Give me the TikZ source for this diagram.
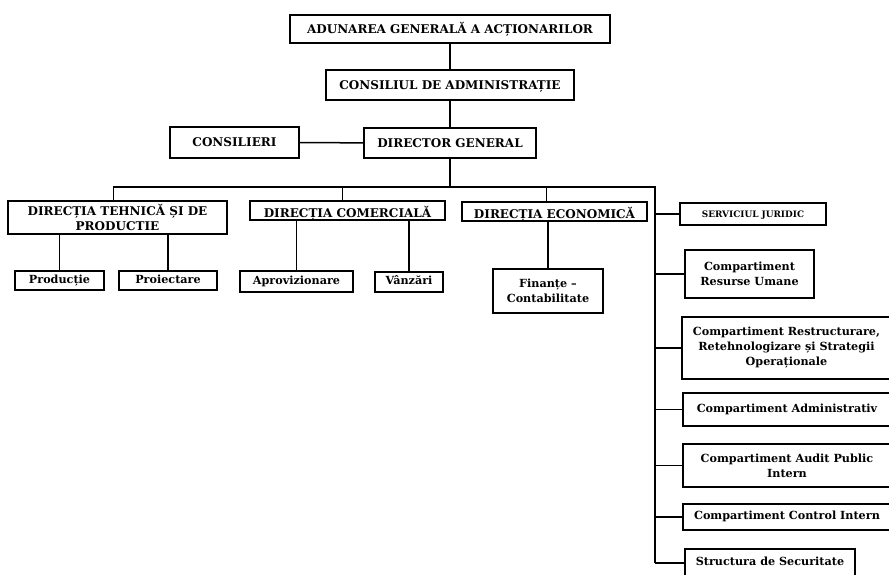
\documentclass[tikz,border=0pt]{standalone}
\usepackage{fontspec}
\setmainfont{DejaVu Serif}

\begin{document}
\begin{tikzpicture}[%%
  x=1pt,y=-1pt,%%
  boxStyle/.style={draw,line width=1.4pt,inner sep=1pt,align=center},%%
  capStyle/.style={boxStyle,font=\bfseries\fontsize{12}{15.5}\selectfont},%%
  smallStyle/.style={boxStyle,font=\bfseries\fontsize{11.2}{15}\selectfont},%%
  capLine/.style={capStyle,text height=8.8pt,text depth=0pt},%%
  lowLine/.style={capStyle,text height=13.4pt,text depth=0pt},%%
  smallLine/.style={smallStyle,text height=8pt,text depth=2.2pt},%%
  lineStyle/.style={-,line width=1.5pt}%%
]
%%
%%
\useasboundingbox (0,0) rectangle (889,574);
\pgfmathsetmacro{\spineX}{655}  %% Vertical line on the right.
\pgfmathsetmacro{\busY}{187}    %% Horizontal line under the director.
\coordinate (spine) at (\spineX,\busY);
\coordinate (busLeft) at (113,\busY);
%%
%% Top of the hierarchy.
\node[capLine,minimum width=320pt,minimum height=28pt] (aga) at (450,29)
  {ADUNAREA GENERALĂ A ACȚIONARILOR};
\node[capLine,minimum width=248pt,minimum height=30pt] (ca) at (450,85)
  {CONSILIUL DE ADMINISTRAȚIE};
\node[capLine,minimum width=172pt,minimum height=30pt] (dg) at (450,143)
  {DIRECTOR GENERAL};
\node[capLine,minimum width=129pt,minimum height=31pt] (cons) at (234.5,142.5)
  {CONSILIERI};
%%
%% Directions.
\node[capStyle,minimum width=219pt,minimum height=33pt] (dtp) at (117.5,217.5)
  {DIRECȚIA TEHNICĂ ȘI DE\\PRODUCTIE};
\node[lowLine,minimum width=195pt,minimum height=19pt] (dc) at (347.5,210.5)
  {DIRECȚIA COMERCIALĂ};
\node[lowLine,minimum width=185pt,minimum height=19pt] (de) at (554.5,211.5)
  {DIRECȚIA ECONOMICĂ};
\node[boxStyle,font=\bfseries\fontsize{8.9}{11}\selectfont,text height=6.5pt,
  text depth=0pt,minimum width=146pt,minimum height=22pt] (sj) at (753,214)
  {SERVICIUL JURIDIC};
%%
%% Departments under the directions.
\node[smallLine,minimum width=89pt,minimum height=19pt] (prod) at (59.5,280.5)
  {Producție};
\node[smallLine,minimum width=98pt,minimum height=19pt] (proi) at (168,280.5)
  {Proiectare};
\node[smallLine,minimum width=113pt,minimum height=21pt] (aprov) at (296.5,281.5)
  {Aprovizionare};
\node[smallLine,minimum width=68pt,minimum height=20pt] (vanz) at (409,282)
  {Vânzări};
\node[smallStyle,minimum width=110pt,minimum height=44pt] (fin) at (548,291)
  {Finanțe –\\Contabilitate};
%%
%% Compartments on the right.
\node[smallStyle,minimum width=129pt,minimum height=48pt] (ru) at (749.5,274)
  {Compartiment\\Resurse Umane};
\node[smallStyle,minimum width=209pt,minimum height=62pt] (rest) at (786.5,348)
  {Compartiment Restructurare,\\Retehnologizare și Strategii\\Operaționale};
\node[smallLine,minimum width=208pt,minimum height=33pt] (adm) at (787,409.5)
  {Compartiment Administrativ};
\node[smallStyle,minimum width=208pt,minimum height=43pt] (aud) at (787,465.5)
  {Compartiment Audit Public\\Intern};
\node[smallLine,minimum width=208pt,minimum height=26pt] (ctrl) at (787,517)
  {Compartiment Control Intern};
\node[smallLine,minimum width=170pt,minimum height=28pt] (sec) at (770,563)
  {Structura de Securitate};
%%
%% Connectors.
\draw[lineStyle] (aga) -- (ca);
\draw[lineStyle] (ca) -- (dg);
\draw[lineStyle] (cons) -- (dg);
\draw[lineStyle] (dg.south) -- (dg.south |- spine);
\draw[lineStyle] (busLeft) -- (spine) -- (spine |- sec.west);
\foreach \n/\dx in {dtp/-4,dc/-5,de/-8}
  \draw[lineStyle] ([xshift=\dx pt]\n.north |- spine) -- ([xshift=\dx pt]\n.north);
\foreach \n/\m in {prod/dtp,proi/dtp,aprov/dc,vanz/dc,fin/de}
  \draw[lineStyle] (\n.north) -- (\n.north |- \m.south);
\foreach \n in {sj,ru,rest,adm,aud,ctrl,sec}
  \draw[lineStyle] (spine |- \n.west) -- (\n.west);
\end{tikzpicture}
\end{document}
